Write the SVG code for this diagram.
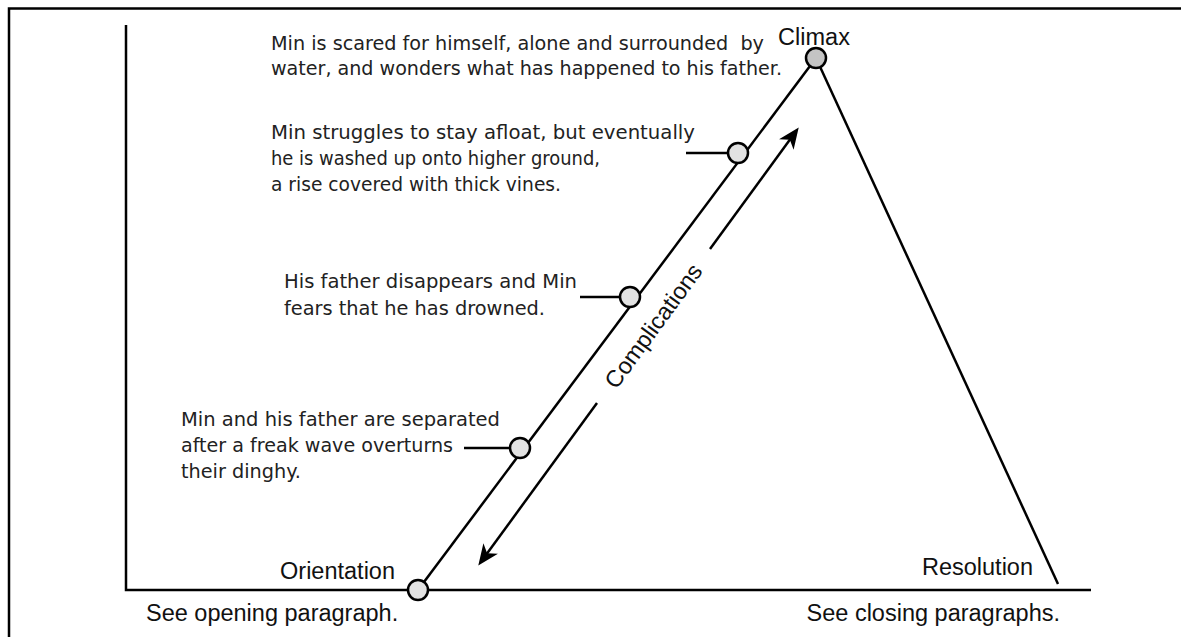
<svg xmlns="http://www.w3.org/2000/svg" width="1181" height="637" viewBox="0 0 1181 637">
  <style>
    .ln { stroke: #000; stroke-width: 2.5; fill: none; }
    .dot { stroke: #000; stroke-width: 2.5; fill: #e2e2e2; }
    .lab { font-family: "Liberation Sans", Arial, sans-serif; font-size: 23.5px; fill: #111; }
    .hw { font-family: "DejaVu Sans", sans-serif; font-size: 20px; fill: #222; }
  </style>
  <defs>
    <marker id="ah" viewBox="-14 -11 24 22" refX="0" refY="0" markerWidth="24" markerHeight="22" markerUnits="userSpaceOnUse" orient="auto">
      <path d="M8,0 L-13,-9 L-7,0 L-13,9 Z" fill="#000"/>
    </marker>
  </defs>
  <rect width="1181" height="637" fill="#fff"/>
  <!-- frame -->
  <path class="ln" d="M9,637 V8.5 H1181"/>
  <!-- axes -->
  <g id="axes">
    <path class="ln" d="M126,25 V590 H1091"/>
  </g>
  <g id="connectors">
    <line class="ln" x1="418" y1="590" x2="816" y2="58"/>
    <line class="ln" x1="816" y1="58" x2="1058" y2="584"/>
    <line class="ln" x1="686" y1="153" x2="738" y2="153"/>
    <line class="ln" x1="580" y1="297" x2="630" y2="297"/>
    <line class="ln" x1="464" y1="448" x2="520" y2="448"/>
    <line class="ln" x1="597" y1="403" x2="483" y2="559" marker-end="url(#ah)"/>
    <line class="ln" x1="710" y1="249" x2="794" y2="134" marker-end="url(#ah)"/>
  </g>
  <text class="lab" transform="translate(653.5,326) rotate(-53.8)" y="8" text-anchor="middle">Complications</text>
  <g id="orientation">
    <circle class="dot" cx="418" cy="590" r="10"/>
    <text class="lab" x="395" y="579" text-anchor="end">Orientation</text>
    <text class="lab" x="146" y="621">See opening paragraph.</text>
  </g>
  <g id="climax">
    <circle class="dot" cx="816" cy="58" r="10" fill="#c4c4c4" style="fill:#c4c4c4"/>
    <text class="lab" x="814" y="45" text-anchor="middle">Climax</text>
  </g>
  <g id="resolution">
    <text class="lab" x="1033" y="575" text-anchor="end">Resolution</text>
    <text class="lab" x="1060" y="621" text-anchor="end">See closing paragraphs.</text>
  </g>
  <g id="event4">
    <circle class="dot" cx="738" cy="153" r="10"/>
  </g>
  <g id="event3">
    <circle class="dot" cx="630" cy="297" r="10"/>
  </g>
  <g id="event2">
    <circle class="dot" cx="520" cy="448" r="10"/>
  </g>
  <g id="note-climax">
    <text class="hw" x="271" y="50" textLength="493" lengthAdjust="spacingAndGlyphs" xml:space="preserve">Min is scared for himself, alone and surrounded  by</text>
    <text class="hw" x="271" y="75" textLength="511" lengthAdjust="spacingAndGlyphs">water, and wonders what has happened to his father.</text>
  </g>
  <g id="note4">
    <text class="hw" x="271" y="139" textLength="424" lengthAdjust="spacingAndGlyphs">Min struggles to stay afloat, but eventually</text>
    <text class="hw" x="271" y="165" textLength="329" lengthAdjust="spacingAndGlyphs">he is washed up onto higher ground,</text>
    <text class="hw" x="271" y="191" textLength="290" lengthAdjust="spacingAndGlyphs">a rise covered with thick vines.</text>
  </g>
  <g id="note3">
    <text class="hw" x="284" y="288" textLength="293" lengthAdjust="spacingAndGlyphs">His father disappears and Min</text>
    <text class="hw" x="284" y="315" textLength="261" lengthAdjust="spacingAndGlyphs">fears that he has drowned.</text>
  </g>
  <g id="note2">
    <text class="hw" x="181" y="426" textLength="319" lengthAdjust="spacingAndGlyphs">Min and his father are separated</text>
    <text class="hw" x="181" y="452" textLength="272" lengthAdjust="spacingAndGlyphs">after a freak wave overturns</text>
    <text class="hw" x="181" y="478" textLength="120" lengthAdjust="spacingAndGlyphs">their dinghy.</text>
  </g>
</svg>
